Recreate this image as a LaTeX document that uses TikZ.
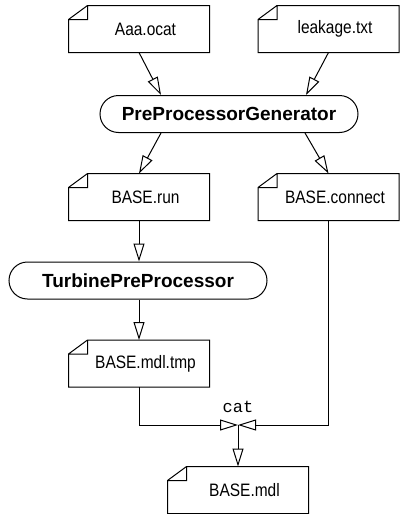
\documentclass[tikz,border=0pt]{standalone}
\usepackage{fontspec}
\setmainfont{Liberation Sans}
\setmonofont{Liberation Mono}
\newfontfamily\narrowfont[FakeStretch=0.86]{Liberation Sans}
\usetikzlibrary{arrows.meta,shapes.misc}

\begin{document}
\begin{tikzpicture}[
  x=1pt,
  y=-1pt,
  line width=1pt,
  file/.style={
    minimum width=140pt,
    minimum height=46pt,
    inner sep=0pt,
    font=\narrowfont\fontsize{18pt}{20pt}\selectfont,
    execute at begin node=\hspace*{13pt}
  },
  prog/.style={
    draw,
    rounded rectangle,
    minimum width=258pt,
    minimum height=37pt,
    inner sep=0pt,
    font=\bfseries\fontsize{19pt}{21pt}\selectfont
  },
  arrow/.style={-{Triangle[open,length=18pt,width=11pt]}}
]
\useasboundingbox (0,0) rectangle (399,514);

% inputs
\node[file] (ocat) at (139,29) {Aaa.ocat};
\node[file] (leak) at (328.5,29) {leakage.txt};
\node[prog] (ppg) at (229,114) {PreProcessorGenerator};

% intermediate files
\node[file] (run) at (139,197) {BASE.run};
\node[file] (conn) at (328.5,197) {BASE.connect};
\node[prog] (tpp) at (138,280.5) {TurbinePreProcessor};
\node[file] (tmp) at (139,363.5) {BASE.mdl.tmp};

% output
\coordinate (cat) at (238,425);
\node[font=\ttfamily\fontsize{17pt}{17pt}\selectfont] (catlabel) at (238,407) {cat};
\node[file] (mdl) at (238,490) {BASE.mdl};

% dog-eared outlines of the files
\foreach \f in {ocat,leak,run,conn,tmp,mdl}
  \draw ([xshift=19pt]\f.north west) -- (\f.north east) |- (\f.south west)
        -- ([yshift=-14pt]\f.north west) -- cycle
        ([yshift=-14pt]\f.north west) -| ([xshift=19pt]\f.north west);

\draw[arrow] (ocat.south) -- ([xshift=-68pt]ppg.north);
\draw[arrow] (leak.south) -- ([xshift=77pt]ppg.north);
\draw[arrow] ([xshift=-68pt]ppg.south) -- (run.north);
\draw[arrow] ([xshift=76pt]ppg.south) -- (conn.north);
\draw[arrow] (run.south) -- (run.south |- tpp.north);
\draw[arrow] (tpp.south -| tmp.north) -- (tmp.north);
\draw[arrow] (tmp.south) |- (cat);
\draw[arrow] (conn.south) |- (cat);
\draw[arrow] (cat) -- (mdl.north);
\end{tikzpicture}
\end{document}
